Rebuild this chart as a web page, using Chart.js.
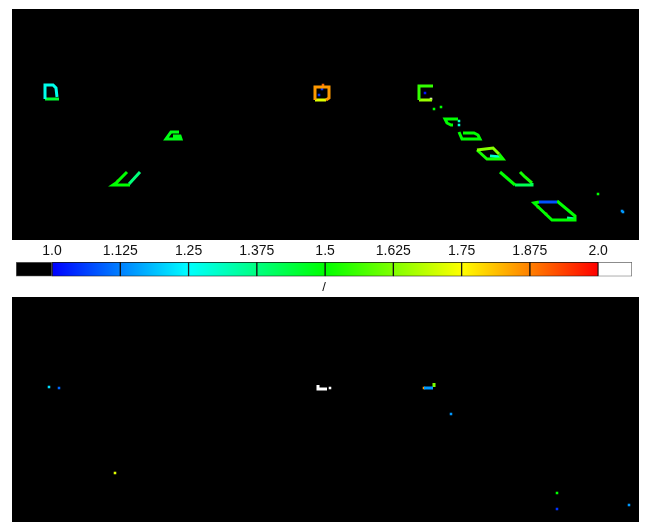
<!DOCTYPE html>
<html>
<head>
<meta charset="utf-8">
<script src="https://cdn.jsdelivr.net/npm/chart.js@4"></script>
<style>
  body { margin: 0; background: #fff; }
  .box { position: absolute; }
</style>
</head>
<body>
<div class="box" style="left:12px; top:9px; width:627px; height:231px;"><canvas id="top"></canvas></div>
<div class="box" style="left:0px; top:240px; width:645px; height:57px;"><canvas id="cbar"></canvas></div>
<div class="box" style="left:12px; top:297px; width:627px; height:225px;"><canvas id="bottom"></canvas></div>
<script>
// colorbar
const tickValues = [1.0, 1.125, 1.25, 1.375, 1.5, 1.625, 1.75, 1.875, 2.0];
const tickLabels = ['1.0', '1.125', '1.25', '1.375', '1.5', '1.625', '1.75', '1.875', '2.0'];
const cbarEdges = [0.934, 1.0, 1.125, 1.25, 1.375, 1.5, 1.625, 1.75, 1.875, 2.0, 2.062];
const cbarTitle = '/';

// top panel outlines (x, y in image cells), one value each
const shapeA1 = [[33, 90], [33, 76], [41, 76], [44, 79], [45, 88]];
const shapeA2 = [[33, 90], [47, 90]];
const shapeB = [[167, 123], [159, 123], [154, 130], [169, 130], [168, 127], [161, 127]];
const shapeC1 = [[115, 163], [104, 174], [101, 176], [118, 176]];
const shapeC2 = [[117, 175], [128, 163]];
const shapeD1 = [[303, 91], [303, 78], [317, 78], [317, 89], [314, 91]];
const shapeD2 = [[303, 91], [314, 91]];
const shapeE1 = [[421, 77], [407, 77], [407, 91]];
const shapeE2 = [[407, 91], [420, 91]];
const shapeF = [[446, 110], [433, 110], [435, 114], [439, 116], [441, 116]];
const shapeG = [[451, 124], [462, 124], [466, 126], [468, 130], [450, 130], [447, 123]];
const shapeH1 = [[465, 141], [481, 139], [487, 145]];
const shapeH2 = [[487, 145], [491, 150], [475, 150], [465, 141]];
const shapeH3 = [[478, 147], [489, 148]];
const shapeI1 = [[488, 163], [503, 176]];
const shapeI2 = [[503, 176], [520, 176], [520, 174]];
const shapeI3 = [[508, 163], [513, 168], [520, 174]];
const shapeJ1 = [[527, 193], [545, 193]];
const shapeJ2 = [[545, 192], [563, 207], [563, 211], [540, 211], [522, 194], [527, 193]];
const shapeJ3 = [[555, 209], [563, 210]];
const topLineShapes = [shapeA1, shapeA2, shapeB, shapeC1, shapeC2, shapeD1, shapeD2, shapeE1, shapeE2,
  shapeF, shapeG, shapeH1, shapeH2, shapeH3, shapeI1, shapeI2, shapeI3, shapeJ1, shapeJ2, shapeJ3];
const topLineValues = [1.27, 1.45, 1.48, 1.5, 1.38, 1.85, 1.72, 1.55, 1.65,
  1.5, 1.5, 1.63, 1.52, 1.3, 1.5, 1.42, 1.52, 1.08, 1.5, 1.35];

// top panel single cells
const topDotX = [310, 307, 311, 419, 413, 422, 429, 447, 447, 526, 534, 586, 610, 611, 106];
const topDotY = [80, 86, 76, 90, 84, 100, 98, 112, 116, 198, 205, 185, 202, 203, 172];
const topDotV = [1.05, 1.05, 1.9, 2.1, 1.02, 1.5, 1.5, 1.3, 1.3, 1.85, 1.85, 1.5, 1.15, 1.15, 1.9];

// bottom panel
const botLineShapes = [[[306, 88], [306, 92], [315, 92]], [[412, 91], [421, 91]], [[422, 86], [422, 90]]];
const botLineValues = [2.1, 1.15, 1.62];
const botDotX = [37, 47, 103, 318, 412, 439, 545, 545, 617];
const botDotY = [90, 91, 176, 91, 91, 117, 196, 212, 208];
const botDotV = [1.22, 1.1, 1.72, 2.1, 1.85, 1.15, 1.5, 1.05, 1.15];

const cmapStops = [[1.0, [0, 0, 255]], [1.25, [0, 255, 255]], [1.5, [0, 255, 0]], [1.75, [255, 255, 0]], [2.0, [255, 0, 0]]];

function valueColor(v) {
  if (v < 1) return 'rgb(0,0,0)';
  if (v > 2) return 'rgb(255,255,255)';
  for (let i = 1; i < cmapStops.length; i++) {
    const [v0, c0] = cmapStops[i - 1];
    const [v1, c1] = cmapStops[i];
    if (v <= v1) {
      const t = (v - v0) / (v1 - v0);
      const c = c0.map((a, k) => Math.round(a + (c1[k] - a) * t));
      return 'rgb(' + c.join(',') + ')';
    }
  }
  return 'rgb(255,0,0)';
}

const blackBg = {
  id: 'blackBg',
  beforeDraw(chart) {
    const { ctx, chartArea } = chart;
    ctx.save();
    ctx.fillStyle = '#000';
    ctx.fillRect(chartArea.left, chartArea.top, chartArea.right - chartArea.left, chartArea.bottom - chartArea.top);
    ctx.restore();
  }
};

function panel(id, lines, lineVals, dx, dy, dv, ymax) {
  const datasets = lines.map((pts, i) => ({
    data: pts.map(p => ({ x: p[0], y: p[1] })),
    showLine: true,
    borderColor: valueColor(lineVals[i]),
    borderWidth: 3,
    borderJoinStyle: 'miter',
    pointRadius: 0
  }));
  datasets.push({
    data: dx.map((x, i) => ({ x: x, y: dy[i] })),
    pointStyle: 'rect',
    pointRadius: 1.8,
    borderWidth: 0,
    backgroundColor: dv.map(valueColor)
  });
  new Chart(document.getElementById(id), {
    type: 'scatter',
    data: { datasets },
    options: {
      responsive: true,
      maintainAspectRatio: false,
      animation: false,
      layout: { padding: 0, autoPadding: false },
      scales: {
        x: { type: 'linear', min: 0, max: 627, display: false },
        y: { type: 'linear', min: 0, max: ymax, reverse: true, display: false }
      },
      plugins: { legend: { display: false }, tooltip: { enabled: false } }
    },
    plugins: [blackBg]
  });
}

panel('top', topLineShapes, topLineValues, topDotX, topDotY, topDotV, 231);
panel('bottom', botLineShapes, botLineValues, botDotX, botDotY, botDotV, 225);

// colorbar as floating bars
const cbarSets = [];
for (let i = 0; i < cbarEdges.length - 1; i++) {
  const lo = cbarEdges[i], hi = cbarEdges[i + 1];
  const under = i === 0, over = i === cbarEdges.length - 2;
  cbarSets.push({
    data: [[lo, hi]],
    grouped: false,
    barPercentage: 1,
    categoryPercentage: 1,
    borderWidth: 1,
    borderSkipped: false,
    borderColor: (under || over) ? '#666' : '#111',
    backgroundColor: (ctx) => {
      if (under) return '#000';
      if (over) return '#fff';
      const chart = ctx.chart;
      if (!chart.chartArea) return valueColor(lo);
      const xs = chart.scales.x;
      const g = chart.ctx.createLinearGradient(xs.getPixelForValue(lo), 0, xs.getPixelForValue(hi), 0);
      g.addColorStop(0, valueColor(lo));
      g.addColorStop(1, valueColor(hi));
      return g;
    }
  });
}

new Chart(document.getElementById('cbar'), {
  type: 'bar',
  data: { labels: ['cb'], datasets: cbarSets },
  options: {
    indexAxis: 'y',
    responsive: true,
    maintainAspectRatio: false,
    animation: false,
    layout: { padding: { left: 16, right: 13, top: 0, bottom: 0 } },
    scales: {
      x: {
        type: 'linear',
        position: 'top',
        min: cbarEdges[0],
        max: cbarEdges[cbarEdges.length - 1],
        grid: { display: false, drawTicks: false },
        border: { display: false },
        afterBuildTicks: (scale) => { scale.ticks = tickValues.map(v => ({ value: v })); },
        afterFit: (scale) => { scale.height = 22; },
        ticks: {
          autoSkip: false,
          maxRotation: 0,
          padding: 2,
          color: '#111',
          font: { family: 'Liberation Sans, Arial, sans-serif', size: 14 },
          callback: (v) => tickLabels[tickValues.indexOf(v)]
        }
      },
      y: { display: false }
    },
    plugins: {
      legend: { display: false },
      tooltip: { enabled: false },
      title: {
        display: true,
        position: 'bottom',
        text: cbarTitle,
        color: '#111',
        font: { family: 'Liberation Sans, Arial, sans-serif', size: 13, weight: 'normal' },
        padding: { top: 3, bottom: 2 }
      }
    }
  }
});
</script>
</body>
</html>
